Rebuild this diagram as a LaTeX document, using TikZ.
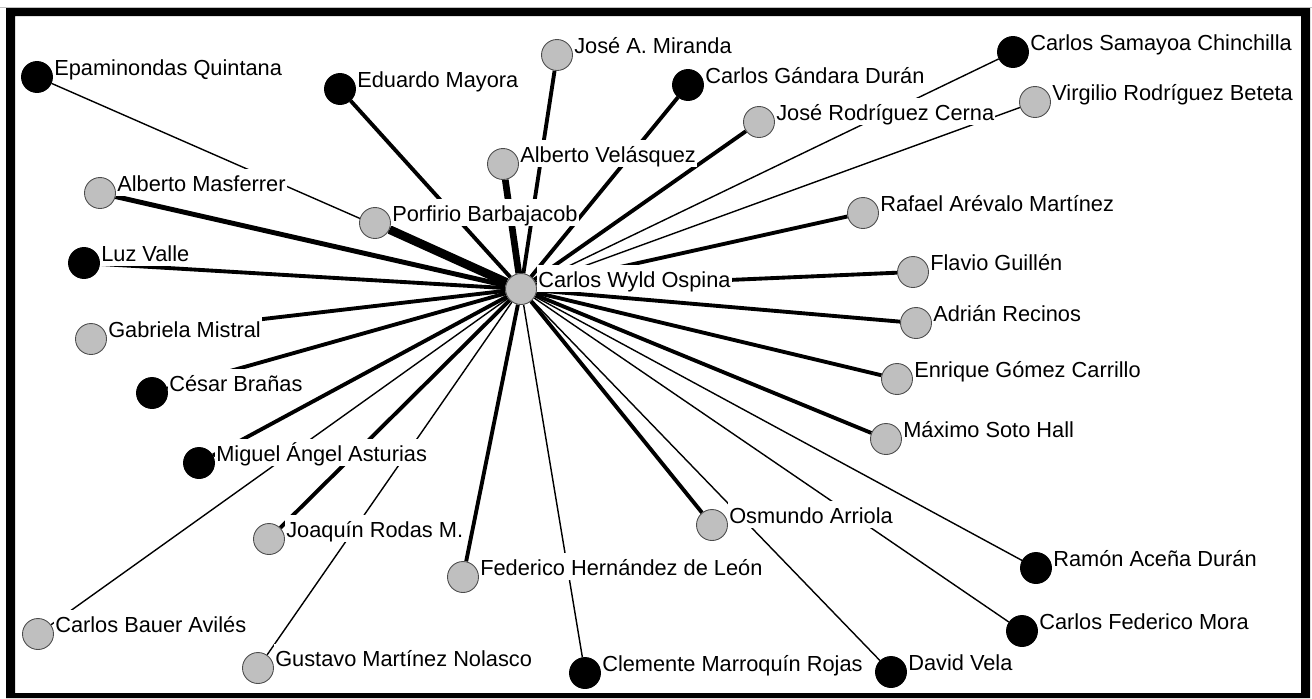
\documentclass[tikz,border=0pt]{standalone}
\usepackage{fontspec}
\setmainfont{Liberation Sans}
\usetikzlibrary{backgrounds}
\tikzset{
  writer/.style={circle, minimum size=0.62cm, inner sep=0pt, line width=0.5pt, label distance=0.07cm},
  persgray/.style={writer, fill=black!25, draw=black!70},
  persblack/.style={writer, fill=black, draw=black},
  lbl/.style={fill=white, inner xsep=0.02cm, inner ysep=0.02cm, text height=0.43cm, text depth=0.08cm,
    anchor=base west, yshift=0.04cm, font=\fontsize{12.4}{14}\selectfont},
  tiethin/.style={line width=0.8pt},
  tiethick/.style={line width=2.2pt},
  tiestrong/.style={line width=2.8pt},
  tieheavy/.style={line width=3.8pt},
  tiemax/.style={line width=5pt}
}
\begin{document}
\begin{tikzpicture}[x=0.02cm,y=-0.02cm]
 \useasboundingbox (0,0) rectangle (1312,698);
 % centre
 \node[persgray, label={[lbl]0:Carlos Wyld Ospina}] (c) at (521,289) {};
 % upper half
 \node[persblack, label={[lbl]0:Epaminondas Quintana}] (epa) at (37,77) {};
 \node[persblack, label={[lbl]0:Eduardo Mayora}] (may) at (340,89) {};
 \node[persgray, label={[lbl]0:José A. Miranda}] (mir) at (557,55) {};
 \node[persblack, label={[lbl]0:Carlos Gándara Durán}] (gan) at (688,85) {};
 \node[persblack, label={[lbl]0:Carlos Samayoa Chinchilla}] (sam) at (1013,52) {};
 \node[persgray, label={[lbl]0:Virgilio Rodríguez Beteta}] (vir) at (1035,102) {};
 \node[persgray, label={[lbl]0:José Rodríguez Cerna}] (cer) at (759,122) {};
 \node[persgray, label={[lbl]0:Alberto Velásquez}] (vel) at (503,164) {};
 \node[persgray, label={[lbl]0:Alberto Masferrer}] (mas) at (100,193) {};
 \node[persgray, label={[lbl]0:Porfirio Barbajacob}] (bar) at (375,223) {};
 \node[persgray, label={[lbl]0:Rafael Arévalo Martínez}] (are) at (863,213) {};
 \node[persblack, label={[lbl]0:Luz Valle}] (luz) at (84,263) {};
 \node[persgray, label={[lbl]0:Flavio Guillén}] (gui) at (913,272) {};
 % lower half
 \node[persgray, label={[lbl]0:Adrián Recinos}] (rec) at (916,323) {};
 \node[persgray, label={[lbl]0:Gabriela Mistral}] (mis) at (91,339) {};
 \node[persgray, label={[lbl]0:Enrique Gómez Carrillo}] (gom) at (897,379) {};
 \node[persblack, label={[lbl]0:César Brañas}] (bra) at (152,393) {};
 \node[persgray, label={[lbl]0:Máximo Soto Hall}] (sot) at (886,439) {};
 \node[persblack, label={[lbl]0:Miguel Ángel Asturias}] (ast) at (199,463) {};
 \node[persgray, label={[lbl]0:Osmundo Arriola}] (arr) at (712,525) {};
 \node[persgray, label={[lbl]0:Joaquín Rodas M.}] (rod) at (269,539) {};
 \node[persgray, label={[lbl]0:Federico Hernández de León}] (her) at (463,577) {};
 \node[persblack, label={[lbl]0:Ramón Aceña Durán}] (ace) at (1036,568) {};
 \node[persgray, label={[lbl]0:Carlos Bauer Avilés}] (bau) at (38,634) {};
 \node[persblack, label={[lbl]0:Carlos Federico Mora}] (mor) at (1022,631) {};
 \node[persgray, label={[lbl]0:Gustavo Martínez Nolasco}] (nol) at (258,668) {};
 \node[persblack, label={[lbl]0:Clemente Marroquín Rojas}] (mar) at (585,673) {};
 \node[persblack, label={[lbl]0:David Vela}] (vela) at (891,672) {};
 % ties, under the names
 \begin{pgfonlayer}{background}
  \fill[white] (0,0) rectangle (1312,698);
  \draw[tiethin] (c) -- (epa);
  \draw[tiethin] (c) -- (sam);
  \draw[tiethin] (c) -- (vir);
  \draw[tiethin] (c) -- (ace);
  \draw[tiethin] (c) -- (bau);
  \draw[tiethin] (c) -- (mor);
  \draw[tiethin] (c) -- (nol);
  \draw[tiethin] (c) -- (mar);
  \draw[tiethin] (c) -- (vela);
  \draw[tiethick] (c) -- (may);
  \draw[tiethick] (c) -- (mir);
  \draw[tiethick] (c) -- (gan);
  \draw[tiethick] (c) -- (cer);
  \draw[tiethick] (c) -- (are);
  \draw[tiethick] (c) -- (luz);
  \draw[tiethick] (c) -- (gui);
  \draw[tiethick] (c) -- (rec);
  \draw[tiethick] (c) -- (mis);
  \draw[tiethick] (c) -- (gom);
  \draw[tiethick] (c) -- (bra);
  \draw[tiethick] (c) -- (sot);
  \draw[tiethick] (c) -- (ast);
  \draw[tiethick] (c) -- (arr);
  \draw[tiethick] (c) -- (rod);
  \draw[tiethick] (c) -- (her);
  \draw[tiestrong] (c) -- (mas);
  \draw[tieheavy] (c) -- (vel);
  \draw[tiemax] (c) -- (bar);
 \end{pgfonlayer}
 % frame
 \draw[black!25, line width=0.5pt] (0,7) -- (1312,7);
 \fill[black, even odd rule] (6,8) rectangle (1310,698) (15,16) rectangle (1301,693);
\end{tikzpicture}
\end{document}
